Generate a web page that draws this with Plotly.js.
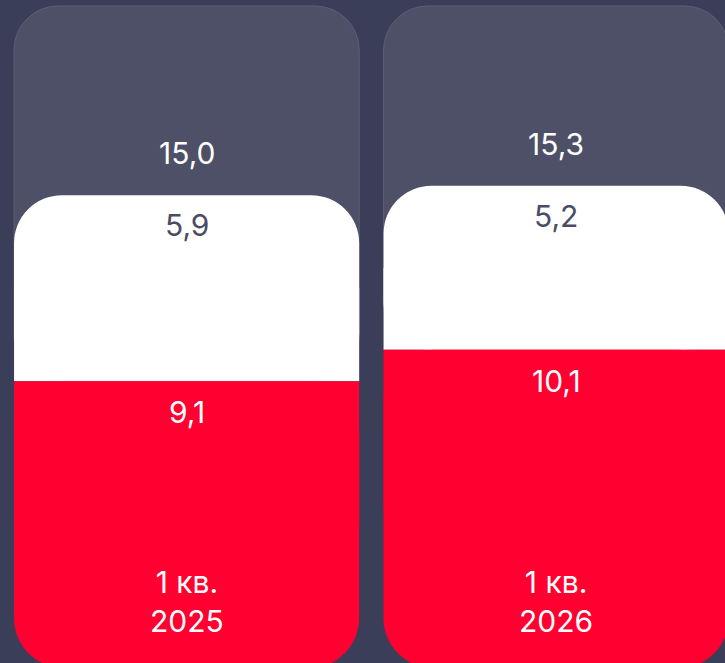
<!DOCTYPE html>
<html><head><meta charset="utf-8">
<script src="https://cdn.plot.ly/plotly-3.0.1.min.js"></script>
<style>html,body{margin:0;padding:0;background:#3a3e59;overflow:hidden}</style>
</head><body><div id="chart" style="width:725px;height:663px"></div>
<script>
const categories = ['1 кв. 2025', '1 кв. 2026'];
const periodLabels = ['1 кв.<br>2025', '1 кв.<br>2026'];
const totalValues = [15.0, 15.3];
const whiteValues = [5.9, 5.2];
const redValues = [9.1, 10.1];
const SCALE_MAX = 21.0;

const xs = categories.map((c, i) => i);
const fmt = v => v.toFixed(1).replace('.', ',');
const FONT = 'Inter, "Noto Sans", sans-serif';
const GRAY = '#4e5067', WHITE = '#ffffff', RED = '#ff0030';

const traces = [
  // card background (rounded top; bottom hidden under the white segment)
  {type: 'bar', x: xs, y: redValues.map(r => SCALE_MAX - r), base: redValues,
   marker: {color: GRAY, cornerradius: 44, line: {color: '#5c5e76', width: 1}}, hoverinfo: 'skip'},
  // white segment: rounded part + square filler for its lower corners
  {type: 'bar', x: xs, y: whiteValues, base: redValues,
   marker: {color: WHITE, cornerradius: 48}, hoverinfo: 'skip'},
  {type: 'bar', x: xs, y: whiteValues.map(v => v / 2), base: redValues,
   marker: {color: WHITE}, hoverinfo: 'skip'},
  // red segment: rounded part + square filler for its upper corners
  {type: 'bar', x: xs, y: redValues, base: redValues.map(() => 0),
   marker: {color: RED, cornerradius: 50}, hoverinfo: 'skip'},
  {type: 'bar', x: xs, y: redValues.map(v => v / 2), base: redValues.map(v => v / 2),
   marker: {color: RED}, hoverinfo: 'skip'}
];

const annotations = [];
xs.forEach(i => {
  annotations.push({x: i, y: totalValues[i], text: fmt(totalValues[i]), showarrow: false,
    yanchor: 'middle', yshift: 42, font: {family: FONT, size: 30, color: '#ffffff'}});
  annotations.push({x: i, y: totalValues[i], text: fmt(whiteValues[i]), showarrow: false,
    yanchor: 'middle', yshift: -30, font: {family: FONT, size: 30, color: '#4a4c66'}});
  annotations.push({x: i, y: redValues[i], text: fmt(redValues[i]), showarrow: false,
    yanchor: 'middle', yshift: -31, font: {family: FONT, size: 30, color: '#ffffff'}});
  annotations.push({x: i, y: 0, yref: 'paper', text: periodLabels[i], showarrow: false,
    yanchor: 'middle', yshift: 62, font: {family: FONT, size: 30, color: '#ffffff'}});
});

const layout = {
  width: 725, height: 663,
  margin: {l: 0, r: 0, t: 0, b: 0, pad: 0},
  paper_bgcolor: '#3a3e59', plot_bgcolor: '#3a3e59',
  barmode: 'overlay', bargap: 0.066,
  showlegend: false,
  xaxis: {range: [-0.505, 1.457], visible: false, fixedrange: true},
  yaxis: {range: [0.165, 21.19], visible: false, fixedrange: true},
  annotations: annotations
};

Plotly.newPlot('chart', traces, layout, {displayModeBar: false, staticPlot: true});
</script>
</body></html>
